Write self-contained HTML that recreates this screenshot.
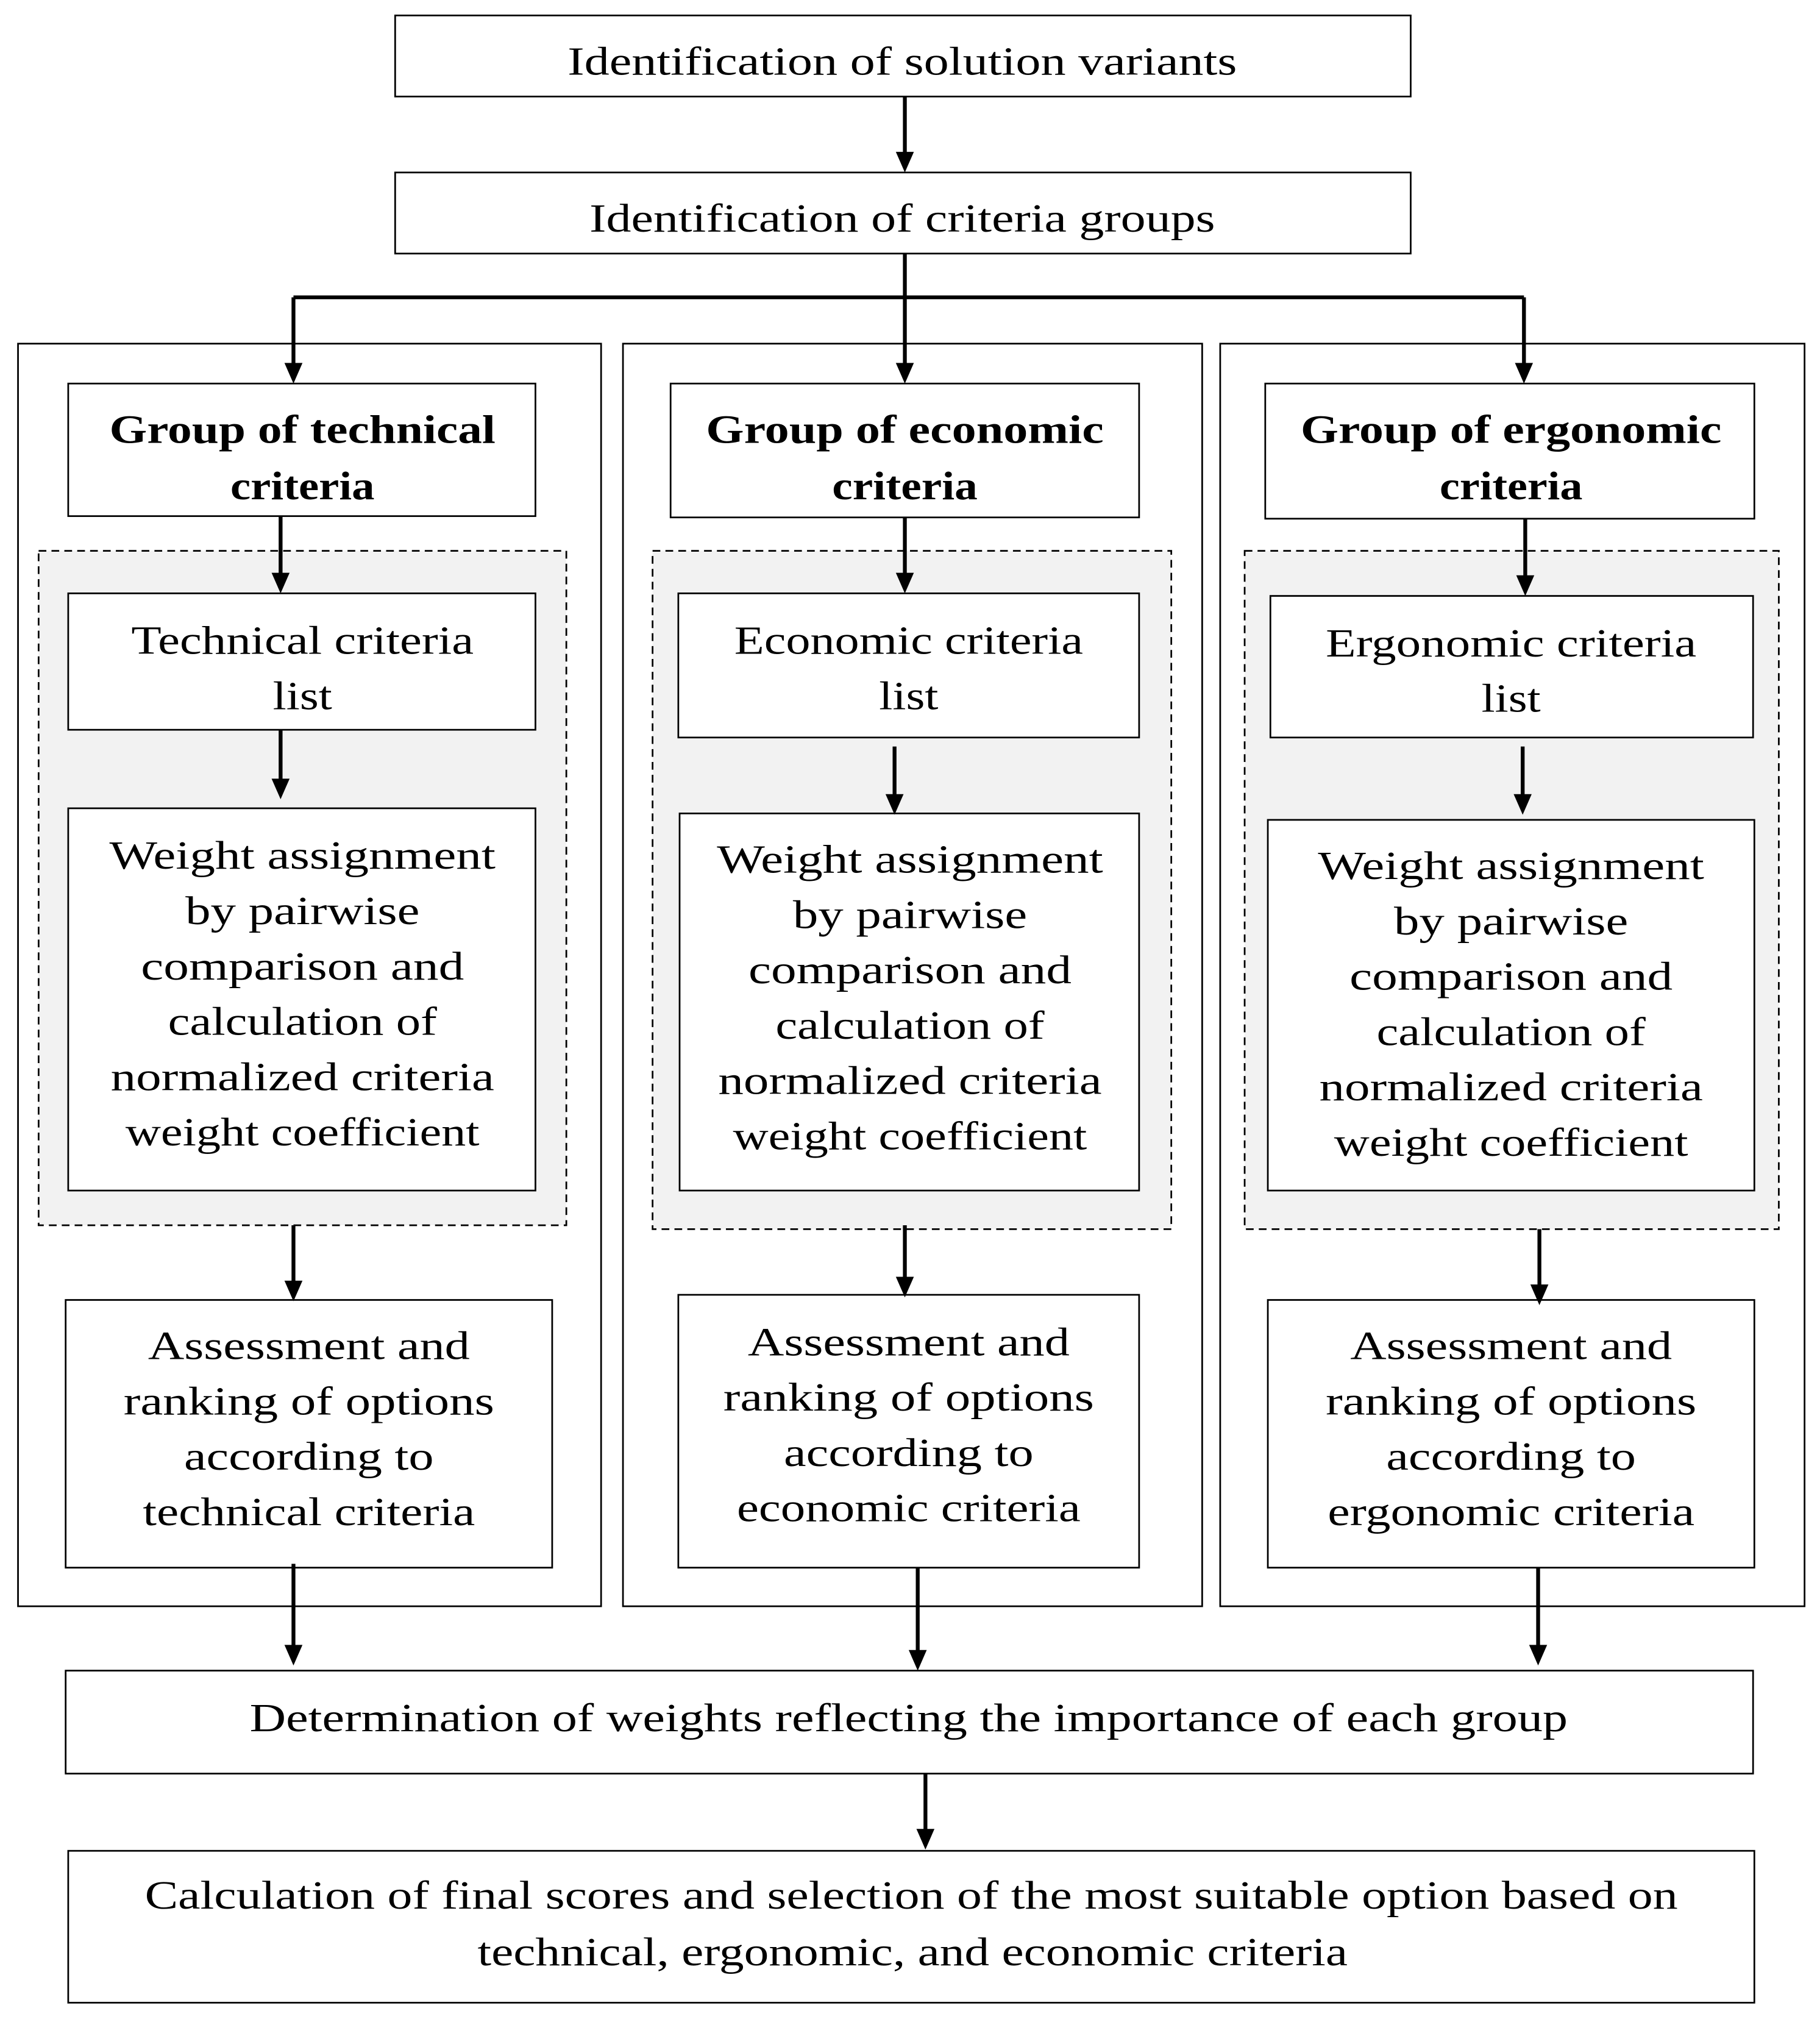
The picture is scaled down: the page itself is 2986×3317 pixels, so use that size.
<!DOCTYPE html>
<html><head><meta charset="utf-8"><style>
html,body{margin:0;padding:0;background:#fff;}
svg{display:block;}
text{font-family:"Liberation Serif",serif;font-size:31px;fill:#000;text-anchor:middle;}
.b{font-weight:bold;}
</style></head><body>
<svg width="2986" height="3317" viewBox="0 0 1414 1571" preserveAspectRatio="none" xmlns="http://www.w3.org/2000/svg">
<g fill="none" stroke="#000" stroke-width="1.3">
<rect x="307" y="12" width="789" height="63" fill="#fff"/>
<rect x="307" y="134" width="789" height="63" fill="#fff"/>
<rect x="14" y="267" width="453" height="981"/>
<rect x="484" y="267" width="450" height="981"/>
<rect x="948" y="267" width="454" height="981"/>
<rect x="53" y="298" width="363" height="103"/>
<rect x="521" y="298" width="364" height="104"/>
<rect x="983" y="298" width="380" height="105"/>
<rect x="30" y="428" width="410" height="524" fill="#f2f2f2" stroke-dasharray="6,4"/>
<rect x="507" y="428" width="403" height="527" fill="#f2f2f2" stroke-dasharray="6,4"/>
<rect x="967" y="428" width="415" height="527" fill="#f2f2f2" stroke-dasharray="6,4"/>
<rect x="53" y="461" width="363" height="106" fill="#fff"/>
<rect x="527" y="461" width="358" height="112" fill="#fff"/>
<rect x="987" y="463" width="375" height="110" fill="#fff"/>
<rect x="53" y="628" width="363" height="297" fill="#fff"/>
<rect x="528" y="632" width="357" height="293" fill="#fff"/>
<rect x="985" y="637" width="378" height="288" fill="#fff"/>
<rect x="51" y="1010" width="378" height="208" fill="#fff"/>
<rect x="527" y="1006" width="358" height="212" fill="#fff"/>
<rect x="985" y="1010" width="378" height="208" fill="#fff"/>
<rect x="51" y="1298" width="1311" height="80"/>
<rect x="53" y="1438" width="1310" height="118"/>
</g>
<g stroke="#000" stroke-width="3" fill="none">
<path d="M703 75V121"/><path d="M703 197V285"/><path d="M228 231H1184"/>
<path d="M228 231V285"/><path d="M1184 231V285"/>
<path d="M218 401V448"/><path d="M703 402V448"/><path d="M1185 403V450"/>
<path d="M218 567V608"/><path d="M695 580V620"/><path d="M1183 580V620"/>
<path d="M228 952V998"/><path d="M703 952V995"/><path d="M1196 955V1001"/>
<path d="M228 1215V1281"/><path d="M713 1218V1285"/><path d="M1195 1218V1281"/>
<path d="M719 1378V1424"/>
</g>
<g fill="#000">
<path d="M696 118h14l-7 16z"/><path d="M696 282h14l-7 16z"/>
<path d="M221 282h14l-7 16z"/><path d="M1177 282h14l-7 16z"/>
<path d="M211 445h14l-7 16z"/><path d="M696 445h14l-7 16z"/><path d="M1178 447h14l-7 16z"/>
<path d="M211 605h14l-7 16z"/><path d="M688 617h14l-7 16z"/><path d="M1176 617h14l-7 16z"/>
<path d="M221 995h14l-7 16z"/><path d="M696 992h14l-7 16z"/><path d="M1189 998h14l-7 16z"/>
<path d="M221 1278h14l-7 16z"/><path d="M706 1282h14l-7 16z"/><path d="M1188 1278h14l-7 16z"/>
<path d="M712 1421h14l-7 16z"/>
</g>
<g style="lengthAdjust:spacingAndGlyphs">
<text x="701" y="58" textLength="520" lengthAdjust="spacingAndGlyphs">Identification of solution variants</text>
<text x="701" y="180" textLength="486" lengthAdjust="spacingAndGlyphs">Identification of criteria groups</text>
<text class="b" x="235" y="344" textLength="300" lengthAdjust="spacingAndGlyphs">Group of technical</text><text class="b" x="235" y="388" textLength="112" lengthAdjust="spacingAndGlyphs">criteria</text>
<text class="b" x="703" y="344" textLength="309" lengthAdjust="spacingAndGlyphs">Group of economic</text><text class="b" x="703" y="388" textLength="113" lengthAdjust="spacingAndGlyphs">criteria</text>
<text class="b" x="1174" y="344" textLength="327" lengthAdjust="spacingAndGlyphs">Group of ergonomic</text><text class="b" x="1174" y="388" textLength="111" lengthAdjust="spacingAndGlyphs">criteria</text>
<text x="235" y="508" textLength="266" lengthAdjust="spacingAndGlyphs">Technical criteria</text><text x="235" y="551" textLength="46" lengthAdjust="spacingAndGlyphs">list</text>
<text x="706" y="508" textLength="271" lengthAdjust="spacingAndGlyphs">Economic criteria</text><text x="706" y="551" textLength="46" lengthAdjust="spacingAndGlyphs">list</text>
<text x="1174" y="510" textLength="288" lengthAdjust="spacingAndGlyphs">Ergonomic criteria</text><text x="1174" y="553" textLength="46" lengthAdjust="spacingAndGlyphs">list</text>

<text x="235" y="675" textLength="300" lengthAdjust="spacingAndGlyphs">Weight assignment</text><text x="235" y="718" textLength="182" lengthAdjust="spacingAndGlyphs">by pairwise</text><text x="235" y="761" textLength="251" lengthAdjust="spacingAndGlyphs">comparison and</text><text x="235" y="804" textLength="209" lengthAdjust="spacingAndGlyphs">calculation of</text><text x="235" y="847" textLength="298" lengthAdjust="spacingAndGlyphs">normalized criteria</text><text x="235" y="890" textLength="275" lengthAdjust="spacingAndGlyphs">weight coefficient</text>
<text x="707" y="678" textLength="300" lengthAdjust="spacingAndGlyphs">Weight assignment</text><text x="707" y="721" textLength="182" lengthAdjust="spacingAndGlyphs">by pairwise</text><text x="707" y="764" textLength="251" lengthAdjust="spacingAndGlyphs">comparison and</text><text x="707" y="807" textLength="209" lengthAdjust="spacingAndGlyphs">calculation of</text><text x="707" y="850" textLength="298" lengthAdjust="spacingAndGlyphs">normalized criteria</text><text x="707" y="893" textLength="275" lengthAdjust="spacingAndGlyphs">weight coefficient</text>
<text x="1174" y="683" textLength="300" lengthAdjust="spacingAndGlyphs">Weight assignment</text><text x="1174" y="726" textLength="182" lengthAdjust="spacingAndGlyphs">by pairwise</text><text x="1174" y="769" textLength="251" lengthAdjust="spacingAndGlyphs">comparison and</text><text x="1174" y="812" textLength="209" lengthAdjust="spacingAndGlyphs">calculation of</text><text x="1174" y="855" textLength="298" lengthAdjust="spacingAndGlyphs">normalized criteria</text><text x="1174" y="898" textLength="275" lengthAdjust="spacingAndGlyphs">weight coefficient</text>

<text x="240" y="1056" textLength="250" lengthAdjust="spacingAndGlyphs">Assessment and</text><text x="240" y="1099" textLength="288" lengthAdjust="spacingAndGlyphs">ranking of options</text><text x="240" y="1142" textLength="194" lengthAdjust="spacingAndGlyphs">according to</text><text x="240" y="1185" textLength="258" lengthAdjust="spacingAndGlyphs">technical criteria</text>
<text x="706" y="1053" textLength="250" lengthAdjust="spacingAndGlyphs">Assessment and</text><text x="706" y="1096" textLength="288" lengthAdjust="spacingAndGlyphs">ranking of options</text><text x="706" y="1139" textLength="194" lengthAdjust="spacingAndGlyphs">according to</text><text x="706" y="1182" textLength="267" lengthAdjust="spacingAndGlyphs">economic criteria</text>
<text x="1174" y="1056" textLength="250" lengthAdjust="spacingAndGlyphs">Assessment and</text><text x="1174" y="1099" textLength="288" lengthAdjust="spacingAndGlyphs">ranking of options</text><text x="1174" y="1142" textLength="194" lengthAdjust="spacingAndGlyphs">according to</text><text x="1174" y="1185" textLength="285" lengthAdjust="spacingAndGlyphs">ergonomic criteria</text>
<text x="706" y="1345" textLength="1024" lengthAdjust="spacingAndGlyphs">Determination of weights reflecting the importance of each group</text>
<text x="708" y="1483" textLength="1191" lengthAdjust="spacingAndGlyphs">Calculation of final scores and selection of the most suitable option based on</text>
<text x="709" y="1527" textLength="676" lengthAdjust="spacingAndGlyphs">technical, ergonomic, and economic criteria</text>
</g>
</svg>
</body></html>
